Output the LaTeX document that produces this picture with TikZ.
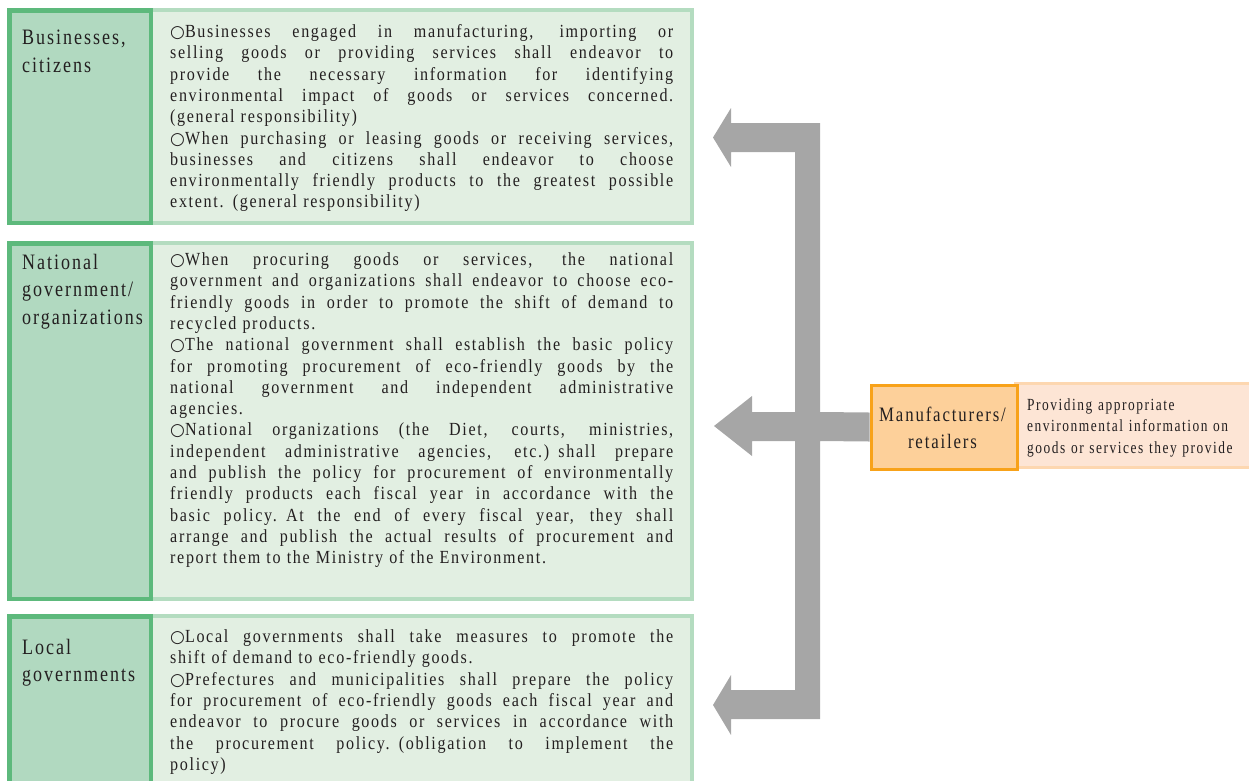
\documentclass[tikz,border=0pt]{standalone}
\usepackage{fontspec}
\setmainfont{Liberation Serif}
\newfontfamily\bodyfont{Liberation Serif}[FakeStretch=0.87,LetterSpace=9]
\newfontfamily\headfont{Liberation Serif}[FakeStretch=0.82,LetterSpace=9]
\newfontfamily\notefont{Liberation Serif}[FakeStretch=0.79,LetterSpace=9]
\newfontfamily\markfont{DejaVu Sans}
\usetikzlibrary{calc}

\definecolor{gdark}{HTML}{5DB97C}
\definecolor{gfill}{HTML}{B1D9C0}
\definecolor{glight}{HTML}{B4DCC0}
\definecolor{gpale}{HTML}{E2EFE2}
\definecolor{oline}{HTML}{F8A219}
\definecolor{ofill}{HTML}{FDD09A}
\definecolor{olight}{HTML}{FDD7B0}
\definecolor{opale}{HTML}{FDE5D5}
\definecolor{agray}{HTML}{A6A6A6}
\definecolor{ink}{HTML}{231F20}

% one justified line of a body paragraph
\newcommand\jl[1]{\makebox[503pt][s]{\spaceskip=0.25em plus 1fil\relax #1}\\}
% paragraph bullet
\newcommand\bul{{\markfont\fontsize{17}{17}\selectfont ○}}

\tikzset{
  actorcell/.style={draw=gdark,fill=gfill,line width=4.5pt},
  dutycell/.style={draw=glight,fill=gpale,line width=4pt},
  makercell/.style={draw=oline,fill=ofill,line width=3pt},
  infocell/.style={draw=olight,fill=opale,line width=3pt},
  body/.style={anchor=base west,inner sep=0pt,text width=503pt,align=left,
    text=ink,font=\bodyfont\fontsize{18.5}{21.3}\selectfont},
  head/.style={anchor=base west,inner sep=0pt,text width=128pt,align=left,
    text=ink,font=\headfont\fontsize{22}{27.5}\selectfont},
  flow/.style={fill=agray},
}

\begin{document}
\begin{tikzpicture}[x=1pt,y=-1pt]
\useasboundingbox (0,0) rectangle (1249,780);
\clip (0,0) rectangle (1249,780);

% ---- responsibility rows: duty text cell, then actor cell on top ----
\path[dutycell] (151,10) rectangle (692,223);
\path[actorcell] (9.5,10.25) rectangle (150.75,222.75);
\path[dutycell] (151,243) rectangle (692,599);
\path[actorcell] (9.5,243.25) rectangle (150.75,598.75);
\path[dutycell] (151,616) rectangle (692,790);
\path[actorcell] (9.5,616.25) rectangle (150.75,790);

\node[head] (a1) at (22,44.5) {Businesses,\\citizens};
\node[head] (a2) at (22,269) {National\\government/\\organizations};
\node[head] (a3) at (22,654) {Local\\governments};

\node[body] (d1) at (170,37.5) {%
\jl{\bul Businesses engaged in manufacturing, importing or}
\jl{selling goods or providing services shall endeavor to}
\jl{provide the necessary information for identifying}
\jl{environmental impact of goods or services concerned.}
(general responsibility)\\
\jl{\bul When purchasing or leasing goods or receiving services,}
\jl{businesses and citizens shall endeavor to choose}
\jl{environmentally friendly products to the greatest possible}
extent. (general responsibility)};

\node[body] (d2) at (170,265.5) {%
\jl{\bul When procuring goods or services, the national}
\jl{government and organizations shall endeavor to choose eco-}
\jl{friendly goods in order to promote the shift of demand to}
recycled products.\\
\jl{\bul The national government shall establish the basic policy}
\jl{for promoting procurement of eco-friendly goods by the}
\jl{national government and independent administrative}
agencies.\\
\jl{\bul National organizations (the Diet, courts, ministries,}
\jl{independent administrative agencies, etc.) shall prepare}
\jl{and publish the policy for procurement of environmentally}
\jl{friendly products each fiscal year in accordance with the}
\jl{basic policy. At the end of every fiscal year, they shall}
\jl{arrange and publish the actual results of procurement and}
report them to the Ministry of the Environment.};

\node[body] (d3) at (170,642.5) {%
\jl{\bul Local governments shall take measures to promote the}
shift of demand to eco-friendly goods.\\
\jl{\bul Prefectures and municipalities shall prepare the policy}
\jl{for procurement of eco-friendly goods each fiscal year and}
\jl{endeavor to procure goods or services in accordance with}
\jl{the procurement policy. (obligation to implement the}
policy)};

% ---- information source ----
\path[infocell] (1015.5,383.5) rectangle (1262,467.5);
\node[makercell,anchor=north west,minimum width=146pt,minimum height=84pt,inner sep=0pt]
  (maker) at (869.5,383.5) {};
\node[anchor=base,inner sep=0pt,text width=146pt,align=center,text=ink,
  font=\headfont\fontsize{20.5}{27}\selectfont] (makerlbl) at (942.5,421)
  {Manufacturers/\\retailers};
\node[anchor=base west,inner sep=0pt,text width=225pt,align=left,text=ink,
  font=\notefont\fontsize{17}{21.5}\selectfont] (info) at (1027,410)
  {Providing appropriate\\environmental information on\\goods or services they provide};

% ---- block arrow: trunk from the makers, branching to the three rows ----
\fill[flow]
  (820,123) -- (820,412) -- ($(maker.west)+(0,-14.5)$) -- ($(maker.west)+(0,14.5)$)
  -- (820,441) -- (820,719) -- (731,719) -- (731,735) -- (713,705) -- (731,675)
  -- (731,690) -- (795,690) -- (795,441) -- (752,441) -- (752,456) -- (714,426)
  -- (752,396) -- (752,412) -- (795,412) -- (795,152) -- (731,152) -- (731,167)
  -- (713,137.5) -- (731,108) -- (731,123) -- cycle;
\end{tikzpicture}
\end{document}
